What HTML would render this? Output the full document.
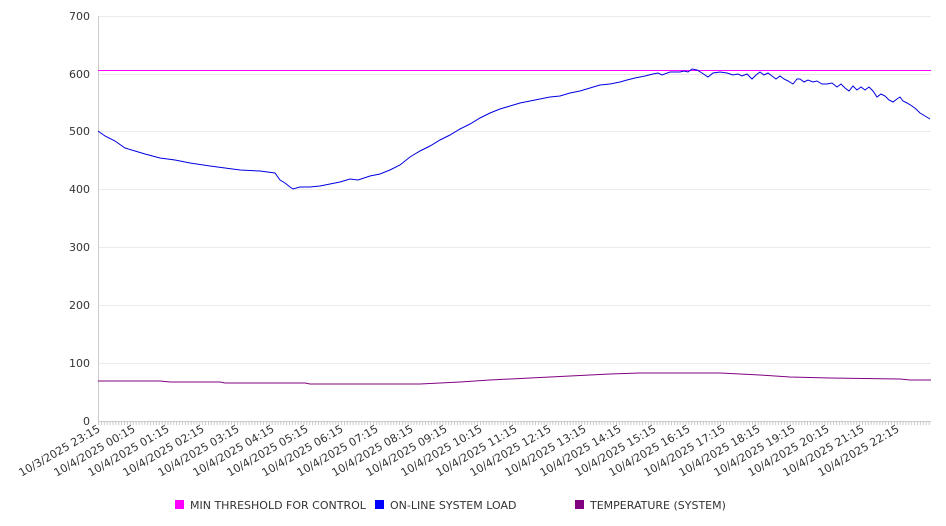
<!DOCTYPE html>
<html><head><meta charset="utf-8"><style>
body{margin:0;background:#fff;}
svg{display:block;font-family:"DejaVu Sans","Liberation Sans",sans-serif;}
</style></head><body>
<svg width="946" height="526" viewBox="0 0 946 526" xmlns="http://www.w3.org/2000/svg">
<defs>
<pattern id="tk" x="98" y="0" width="2.894" height="10" patternUnits="userSpaceOnUse">
<line x1="0.5" y1="0" x2="0.5" y2="10" stroke="#c8c8c8" stroke-width="1"/>
</pattern>
</defs>
<g stroke="#ebebeb" stroke-width="1">
<line x1="98" y1="16.5" x2="931" y2="16.5"/>
<line x1="98" y1="74.5" x2="931" y2="74.5"/>
<line x1="98" y1="131.5" x2="931" y2="131.5"/>
<line x1="98" y1="189.5" x2="931" y2="189.5"/>
<line x1="98" y1="247.5" x2="931" y2="247.5"/>
<line x1="98" y1="305.5" x2="931" y2="305.5"/>
<line x1="98" y1="363.5" x2="931" y2="363.5"/>
</g>
<line x1="98.5" y1="16" x2="98.5" y2="421" stroke="#ccc"/>
<line x1="98" y1="421.5" x2="931" y2="421.5" stroke="#ccc"/>
<rect x="98" y="421" width="833" height="4" fill="url(#tk)"/>
<g font-size="11" fill="#333" text-anchor="end">
<text x="90" y="20">700</text>
<text x="90" y="78">600</text>
<text x="90" y="135">500</text>
<text x="90" y="193">400</text>
<text x="90" y="251">300</text>
<text x="90" y="309">200</text>
<text x="90" y="367">100</text>
<text x="90" y="425">0</text>
</g>
<g font-size="11" fill="#333" text-anchor="end">
<text transform="translate(101,431) rotate(-30)">10/3/2025 23:15</text>
<text transform="translate(136,431) rotate(-30)">10/4/2025 00:15</text>
<text transform="translate(170,431) rotate(-30)">10/4/2025 01:15</text>
<text transform="translate(205,431) rotate(-30)">10/4/2025 02:15</text>
<text transform="translate(240,431) rotate(-30)">10/4/2025 03:15</text>
<text transform="translate(275,431) rotate(-30)">10/4/2025 04:15</text>
<text transform="translate(309,431) rotate(-30)">10/4/2025 05:15</text>
<text transform="translate(344,431) rotate(-30)">10/4/2025 06:15</text>
<text transform="translate(379,431) rotate(-30)">10/4/2025 07:15</text>
<text transform="translate(414,431) rotate(-30)">10/4/2025 08:15</text>
<text transform="translate(448,431) rotate(-30)">10/4/2025 09:15</text>
<text transform="translate(483,431) rotate(-30)">10/4/2025 10:15</text>
<text transform="translate(518,431) rotate(-30)">10/4/2025 11:15</text>
<text transform="translate(552,431) rotate(-30)">10/4/2025 12:15</text>
<text transform="translate(587,431) rotate(-30)">10/4/2025 13:15</text>
<text transform="translate(622,431) rotate(-30)">10/4/2025 14:15</text>
<text transform="translate(657,431) rotate(-30)">10/4/2025 15:15</text>
<text transform="translate(691,431) rotate(-30)">10/4/2025 16:15</text>
<text transform="translate(726,431) rotate(-30)">10/4/2025 17:15</text>
<text transform="translate(761,431) rotate(-30)">10/4/2025 18:15</text>
<text transform="translate(796,431) rotate(-30)">10/4/2025 19:15</text>
<text transform="translate(830,431) rotate(-30)">10/4/2025 20:15</text>
<text transform="translate(865,431) rotate(-30)">10/4/2025 21:15</text>
<text transform="translate(900,431) rotate(-30)">10/4/2025 22:15</text>
</g>
<line x1="98" y1="70.5" x2="931" y2="70.5" stroke="#ff00ff" stroke-width="1"/>
<polyline fill="none" stroke="#800080" stroke-width="1" points="98,381 160,381 170,382 220,382 225,383 305,383 310,384 420,384 440,383 460,382 490,380 530,378 570,376 610,374 640,373 720,373 740,374 760,375 790,377 830,378 900,379 910,380 931,380"/>
<polyline fill="none" stroke="#0000e0" stroke-width="1" points="98,131 105,136 115,141 125,148 135,151 145,154 160,158 175,160 190,163 210,166 225,168 240,170 260,171 275,173 280,180 285,183 290,187 293,189 300,187 310,187 320,186 330,184 340,182 350,179 358,180 370,176 380,174 390,170 400,165 410,157 420,151 430,146 440,140 450,135 460,129 470,124 480,118 490,113 500,109 510,106 520,103 530,101 540,99 550,97 560,96 570,93 580,91 590,88 600,85 610,84 620,82 627,80 635,78 645,76 653,74 658,73 662,75 670,72 680,72 684,71 688,72 692,69 697,70 702,73 708,77 713,73 720,72 727,73 733,75 738,74 742,76 747,74 752,79 756,75 760,72 764,75 768,73 772,76 776,79 780,76 784,79 788,81 793,84 797,79 800,79 804,82 808,80 813,82 817,81 822,84 827,84 832,83 837,87 841,84 845,88 849,91 853,86 857,90 861,87 865,90 869,87 873,91 877,97 881,94 885,96 889,100 893,102 897,99 900,97 903,101 907,103 912,106 916,109 920,113 925,116 930,119"/>
<g font-size="11" fill="#333">
<rect x="175" y="500" width="9" height="9" fill="#ff00ff"/>
<text x="190" y="509">MIN THRESHOLD FOR CONTROL</text>
<rect x="375" y="500" width="9" height="9" fill="#0000ff"/>
<text x="390" y="509">ON-LINE SYSTEM LOAD</text>
<rect x="575" y="500" width="9" height="9" fill="#800080"/>
<text x="590" y="509">TEMPERATURE (SYSTEM)</text>
</g>
</svg>
</body></html>
